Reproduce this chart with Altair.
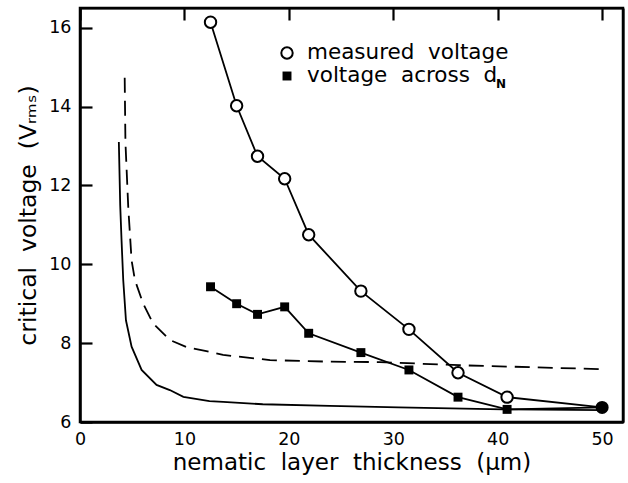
import altair as alt
import pandas as pd

# measured voltage (open circles)
meas_x = [12.5, 15.0, 17.0, 19.6, 21.9, 26.9, 31.5, 36.2, 40.9, 50.0]
meas_y = [16.14, 14.02, 12.74, 12.17, 10.75, 9.32, 8.35, 7.25, 6.63, 6.37]
# voltage across d_N (filled squares)
across_x = [12.5, 15.0, 17.0, 19.6, 21.9, 26.9, 31.5, 36.2, 40.9, 50.0]
across_y = [9.43, 9.00, 8.73, 8.92, 8.25, 7.76, 7.32, 6.63, 6.32, 6.37]
# common end point (filled circle)
end_x = [50.0]
end_y = [6.37]
# theory, solid
solid_x = [3.72, 3.85, 3.98, 4.14, 4.40, 4.94, 5.9, 7.33, 8.6, 9.9, 12.4, 13.7, 17.5, 23.9, 30.5, 40.5, 50.0]
solid_y = [13.10, 11.5, 10.6, 9.6, 8.58, 7.91, 7.32, 6.94, 6.81, 6.64, 6.53, 6.51, 6.45, 6.41, 6.37, 6.32, 6.30]
# theory, dashed
dash_x = [4.28, 4.35, 4.62, 4.94, 5.26, 6.05, 7.0, 8.6, 10.2, 12.1, 13.7, 18.2, 23.9, 28.7, 36.3, 49.9]
dash_y = [14.73, 13.1, 11.45, 10.1, 9.6, 9.0, 8.5, 8.08, 7.9, 7.8, 7.70, 7.57, 7.53, 7.52, 7.44, 7.34]

x_domain = [0, 52]
y_domain = [6, 16.5]
# labelled values plus the far domain edge (which only carries the frame line)
x_values = [0, 10, 20, 30, 40, 50, 52]
y_values = [6, 8, 10, 12, 14, 16, 16.5]

FONT = "DejaVu Sans"
W, H = 543, 414
TICK = 12  # inward tick length, px

meas = pd.DataFrame({"x": meas_x, "y": meas_y, "i": range(len(meas_x))})
across = pd.DataFrame({"x": across_x, "y": across_y, "i": range(len(across_x))})
endp = pd.DataFrame({"x": end_x, "y": end_y})
solid = pd.DataFrame({"x": solid_x, "y": solid_y, "i": range(len(solid_x))})
dash = pd.DataFrame({"x": dash_x, "y": dash_y, "i": range(len(dash_x))})
one = pd.DataFrame({"a": [0]})

xs = alt.Scale(domain=x_domain, nice=False, zero=False)
ys = alt.Scale(domain=y_domain, nice=False, zero=False)

# grid lines start at the axis: a short dash gives an inward tick,
# and the line at the far domain edge is drawn solid to close the frame
x_grid_dash = {"condition": {"test": "datum.value > 51", "value": [600, 0]}, "value": [TICK, 2000]}
y_grid_dash = {"condition": {"test": "datum.value > 16.4", "value": [800, 0]}, "value": [TICK, 2000]}

xaxis = alt.Axis(values=x_values, ticks=False, grid=True, gridColor="black", gridWidth=2.2,
                 gridOpacity=1, gridDash=x_grid_dash,
                 domain=True, domainColor="black", domainWidth=2.5,
                 labelExpr="datum.value > 51 ? '' : datum.label",
                 labelFontSize=17.5, labelFont=FONT, labelColor="black", labelPadding=8,
                 labelFlush=False,
                 title="nematic\u00a0 layer\u00a0 thickness\u00a0 (\u03bcm)",
                 titleFont=FONT, titleFontSize=23, titleFontWeight="normal", titleColor="black",
                 titleBaseline="alphabetic", titleY=47)
yaxis = alt.Axis(values=y_values, ticks=False, grid=True, gridColor="black", gridWidth=2.2,
                 gridOpacity=1, gridDash=y_grid_dash,
                 domain=True, domainColor="black", domainWidth=2.5,
                 labelExpr="datum.value > 16.4 ? '' : datum.label",
                 labelFontSize=17.5, labelFont=FONT, labelColor="black", labelPadding=9,
                 labelFlush=False,
                 title="critical\u00a0 voltage\u00a0 (V\u1d63\u2098\u209b)",
                 titleFont=FONT, titleFontSize=23.5, titleFontWeight="normal", titleColor="black",
                 titleBaseline="alphabetic", titleX=-45, titleAngle=270)

X = alt.X("x:Q", scale=xs, axis=xaxis)
Y = alt.Y("y:Q", scale=ys, axis=yaxis)

solid_line = alt.Chart(solid).mark_line(color="black", strokeWidth=1.8).encode(x=X, y=Y, order="i:Q")
dash_line = alt.Chart(dash).mark_line(color="black", strokeWidth=1.8, strokeDash=[15, 8]).encode(x=X, y=Y, order="i:Q")
meas_line = alt.Chart(meas).mark_line(color="black", strokeWidth=1.8).encode(x=X, y=Y, order="i:Q")
across_line = alt.Chart(across).mark_line(color="black", strokeWidth=1.8).encode(x=X, y=Y, order="i:Q")
meas_pts = alt.Chart(meas[meas.x < 49]).mark_point(shape="circle", filled=False, fill="white",
                                                    color="black", strokeWidth=2, size=130, opacity=1).encode(x=X, y=Y)
across_pts = alt.Chart(across[across.x < 49]).mark_point(shape="square", filled=True, color="black",
                                                          size=80, opacity=1).encode(x=X, y=Y)
end_pt = alt.Chart(endp).mark_point(shape="circle", filled=True, color="black", size=170, opacity=1).encode(x=X, y=Y)

# legend
leg_pt1 = alt.Chart(one).mark_point(shape="circle", filled=False, fill="white",
                                    color="black", strokeWidth=2, size=130, opacity=1).encode(
    x=alt.value(207), y=alt.value(45))
leg_pt2 = alt.Chart(one).mark_point(shape="square", filled=True, color="black",
                                    size=80, opacity=1).encode(
    x=alt.value(207), y=alt.value(68))
leg_t1 = alt.Chart(pd.DataFrame({"t": ["measured\u00a0 voltage"]})).mark_text(
    align="left", baseline="middle", font=FONT, fontSize=21.5, color="black").encode(
    text="t:N", x=alt.value(227), y=alt.value(45))
leg_t2 = alt.Chart(pd.DataFrame({"t": ["voltage\u00a0 across\u00a0 d"]})).mark_text(
    align="left", baseline="middle", font=FONT, fontSize=21.5, color="black").encode(
    text="t:N", x=alt.value(227), y=alt.value(68))
leg_t3 = alt.Chart(pd.DataFrame({"t": ["N"]})).mark_text(
    align="left", baseline="middle", font=FONT, fontSize=12, fontWeight="bold", color="black").encode(
    text="t:N", x=alt.value(416), y=alt.value(76))

chart = alt.layer(
    solid_line, dash_line, meas_line, across_line,
    meas_pts, across_pts, end_pt,
    leg_pt1, leg_pt2, leg_t1, leg_t2, leg_t3
).properties(
    width=W, height=H,
    background="white",
    autosize=alt.AutoSizeParams(type="none"),
    padding={"left": 80, "top": 8, "right": 5, "bottom": 61},
).configure_view(stroke="black", strokeWidth=2.5)

chart.save("out.html", embed_options={"renderer": "svg", "actions": False})
